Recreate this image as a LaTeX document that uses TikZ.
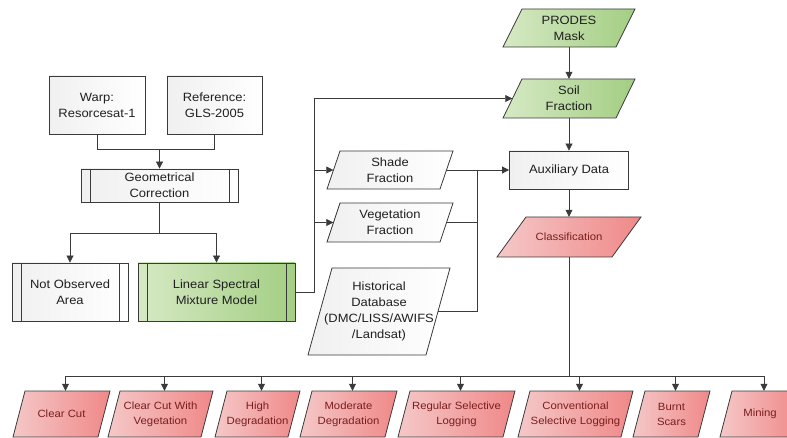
\documentclass[tikz,border=0pt]{standalone}
\usepackage{fontspec}
\setmainfont{Liberation Sans}[FakeStretch=1.08]
\usetikzlibrary{arrows.meta,calc}
\definecolor{bordc}{HTML}{3A3A3A}
\definecolor{txt}{HTML}{202020}
\definecolor{redtxt}{HTML}{7A1E1E}
\definecolor{gL}{HTML}{F0F0F0}
\definecolor{gR}{HTML}{FFFFFF}
\definecolor{grL}{HTML}{D6E9C4}
\definecolor{grR}{HTML}{A3CE83}
\definecolor{rL}{HTML}{F5C8C8}
\definecolor{rR}{HTML}{F08888}
\tikzset{
  gfill/.style={left color=gL,right color=gR},
  gnfill/.style={left color=grL,right color=grR},
  rdfill/.style={left color=rL,right color=rR},
  gfill text/.style={text=txt,align=center,font=\fontsize{12}{16}\selectfont},
  gnfill text/.style={text=txt,align=center,font=\fontsize{12}{16}\selectfont},
  rdfill text/.style={text=redtxt,align=center,font=\fontsize{10.5}{15}\selectfont},
  box/.style={draw=bordc,line width=0.8pt,inner sep=0pt},
  proc/.style={path picture={\draw[bordc,line width=0.8pt]
      ([xshift=9pt]path picture bounding box.north west) -- ([xshift=9pt]path picture bounding box.south west)
      ([xshift=-9pt]path picture bounding box.north east) -- ([xshift=-9pt]path picture bounding box.south east);}},
  conn/.style={draw=bordc,line width=0.7pt},
  arr/.style={-{Triangle[length=7pt,width=7pt]}},
}
% name, center, width, height, slant, fill style, text
\newcommand\pgm[7]{%
  \shade[#6,draw=bordc,line width=0.8pt] (#2) ++(-#3/2+#5,-#4/2) -- ++(#3,0) -- ++(-2*#5,#4) -- ++(-#3,0) -- cycle;
  \node[#6 text,minimum width=#3,minimum height=#4,inner sep=0pt] (#1) at (#2) {#7};%
}
\begin{document}
\begin{tikzpicture}[x=1pt,y=-1pt]
\useasboundingbox (0,0) rectangle (787,438);
\clip (0,0) rectangle (787,438);

% left column
\node[box,gfill,gfill text,minimum width=96,minimum height=58] (warp) at (97,105) {Warp:\\Resorcesat-1};
\node[box,gfill,gfill text,minimum width=95,minimum height=58] (ref) at (214.5,105) {Reference:\\GLS-2005};
\node[box,proc,gfill,gfill text,minimum width=157,minimum height=33] (geo) at (159.5,185.5) {Geometrical\\Correction};
\node[box,proc,gfill,gfill text,minimum width=116,minimum height=58] (noa) at (70,292) {Not Observed\\Area};
\node[box,proc,gnfill,gnfill text,minimum width=157,minimum height=58] (lsmm) at (216.5,292) {Linear Spectral\\Mixture Model};

% middle column
\pgm{shade}{390,170}{113}{38}{6.5}{gfill}{Shade\\Fraction}
\pgm{veg}{390,222.5}{113}{39}{6.5}{gfill}{Vegetation\\Fraction}
\pgm{hist}{379,311.5}{118}{87}{12}{gfill}{Historical\\Database\\(DMC/LISS/AWIFS\\/Landsat)}

% right column
\pgm{prodes}{569,28}{113}{38}{9.5}{gnfill}{PRODES\\Mask}
\pgm{soil}{569,98.5}{113}{39}{9.5}{gnfill}{Soil\\Fraction}
\node[box,gfill,gfill text,minimum width=119,minimum height=38] (aux) at (569,170) {Auxiliary Data};
\pgm{cls}{569,237}{115}{40}{14.5}{rdfill}{Classification}

% bottom row
\pgm{cc}{61.5,414}{85}{46}{6}{rdfill}{Clear Cut}
\pgm{ccv}{160.5,414}{93}{46}{6}{rdfill}{Clear Cut With\\Vegetation}
\pgm{hd}{257.5,414}{73}{46}{6}{rdfill}{High\\Degradation}
\pgm{md}{348.5,414}{85}{46}{6}{rdfill}{Moderate\\Degradation}
\pgm{rsl}{456.5,414}{105}{46}{6}{rdfill}{Regular Selective\\Logging}
\pgm{csl}{575.5,414}{103}{46}{6}{rdfill}{Conventional\\Selective Logging}
\pgm{bs}{671.5,414}{65}{46}{6}{rdfill}{Burnt\\Scars}
\pgm{mn}{760,414}{68}{46}{6}{rdfill}{Mining}

% connectors, left
\coordinate (m1) at ($(geo.north)+(0,-19)$);
\draw[conn] (warp.south) |- (m1) -| (ref.south);
\draw[conn,arr] (m1) -- (geo.north);
\coordinate (m2) at ($(geo.south)+(0,31)$);
\draw[conn] (geo.south) -- (m2);
\draw[conn,arr] (m2) -| (noa.north);
\draw[conn,arr] (m2) -| (lsmm.north);

% LSMM to fractions
\coordinate (vx) at ($(lsmm.east)+(19,0)$);
\draw[conn,arr] (lsmm.east) -| (vx |- soil.west) -- (soil.west);
\draw[conn,arr] (vx |- shade.west) -- (shade.west);
\draw[conn,arr] (vx |- veg.west) -- (veg.west);

% fractions to auxiliary data
\coordinate (hx) at ($(shade.east)+(31,0)$);
\draw[conn,arr] (shade.east) -- (aux.west);
\draw[conn] (veg.east) -- (hx |- veg.east);
\draw[conn] (hist.east) -| (hx |- shade.east);

% right column
\draw[conn,arr] (prodes.south) -- (soil.north);
\draw[conn,arr] (soil.south) -- (aux.north);
\draw[conn,arr] (aux.south) -- (cls.north);

% classes
\coordinate (j) at ($(cls.south)+(0,119)$);
\draw[conn] (cls.south) -- (j);
\foreach \n in {cc,ccv,hd,md,rsl,csl,bs,mn}
  \draw[conn,arr] (j) -| ([xshift=4pt]\n.north);
\end{tikzpicture}
\end{document}
